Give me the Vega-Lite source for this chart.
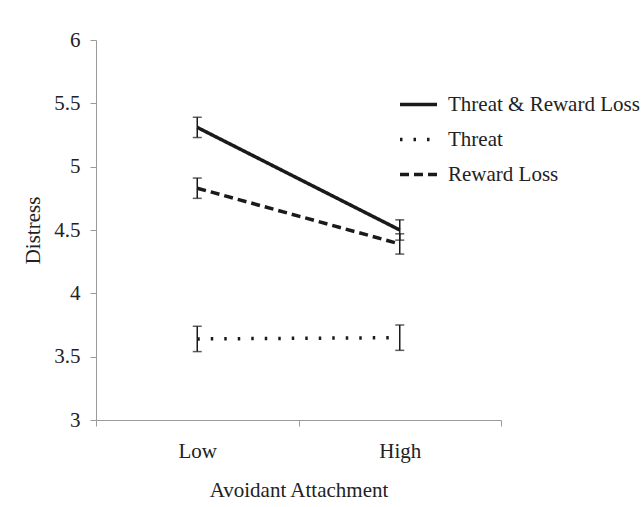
{
  "$schema": "https://vega.github.io/schema/vega-lite/v6.json",
  "width": 405,
  "height": 380,
  "autosize": {"type": "none"},
  "padding": {"left": 96, "top": 40, "right": 140, "bottom": 87},
  "background": "white",
  "config": {
    "view": {"stroke": null},
    "font": "Liberation Serif",
    "axis": {
      "labelFont": "Liberation Serif",
      "titleFont": "Liberation Serif",
      "labelFontSize": 21,
      "titleFontSize": 21,
      "titleFontWeight": "normal",
      "labelColor": "#222222",
      "titleColor": "#222222",
      "domainColor": "#9a9a9a",
      "tickColor": "#9a9a9a",
      "grid": false
    }
  },
  "data": {
    "values": [
      {"attach": "Low", "series": "Threat & Reward Loss", "mean": 5.31, "lo": 5.23, "hi": 5.39},
      {"attach": "High", "series": "Threat & Reward Loss", "mean": 4.5, "lo": 4.42, "hi": 4.58},
      {"attach": "Low", "series": "Threat", "mean": 3.64, "lo": 3.54, "hi": 3.74},
      {"attach": "High", "series": "Threat", "mean": 3.65, "lo": 3.55, "hi": 3.75},
      {"attach": "Low", "series": "Reward Loss", "mean": 4.83, "lo": 4.75, "hi": 4.91},
      {"attach": "High", "series": "Reward Loss", "mean": 4.39, "lo": 4.31, "hi": 4.47}
    ]
  },
  "encoding": {
    "x": {
      "field": "attach",
      "type": "nominal",
      "sort": ["Low", "High"],
      "scale": {"type": "band", "paddingInner": 0, "paddingOuter": 0},
      "axis": {
        "title": "Avoidant Attachment",
        "labelAngle": 0,
        "labelFont": "Liberation Serif",
        "tickBand": "extent",
        "tickSize": 6,
        "labelPadding": 14,
        "titlePadding": 18
      }
    }
  },
  "layer": [
    {
      "mark": {"type": "line", "strokeWidth": 3.5, "color": "#1a1a1a"},
      "encoding": {
        "y": {
          "field": "mean",
          "type": "quantitative",
          "scale": {"domain": [3, 6], "nice": false, "zero": false},
          "axis": {
            "title": "Distress",
            "labelFont": "Liberation Serif",
            "values": [3, 3.5, 4, 4.5, 5, 5.5, 6],
            "format": "~g",
            "tickSize": 6,
            "labelPadding": 10,
            "titlePadding": 10
          }
        },
        "strokeDash": {
          "field": "series",
          "type": "nominal",
          "scale": {
            "domain": ["Threat & Reward Loss", "Threat", "Reward Loss"],
            "range": [[1, 0], [2.5, 11], [9, 5]]
          },
          "legend": {
            "orient": "none",
            "legendX": 302,
            "legendY": 44,
            "title": null,
            "padding": 0,
            "symbolType": "stroke",
            "symbolSize": 1369,
            "symbolStrokeWidth": 3.5,
            "symbolStrokeColor": "#1a1a1a",
            "labelFont": "Liberation Serif",
            "labelFontSize": 21,
            "labelColor": "#222222",
            "labelOffset": 9,
            "labelLimit": 300,
            "rowPadding": 4
          }
        }
      }
    },
    {
      "mark": {"type": "rule", "strokeWidth": 1.5, "color": "#1a1a1a"},
      "encoding": {
        "y": {"field": "lo", "type": "quantitative"},
        "y2": {"field": "hi"},
        "detail": {"field": "series"}
      }
    },
    {
      "mark": {"type": "tick", "size": 9, "thickness": 1.5, "color": "#1a1a1a", "orient": "horizontal"},
      "encoding": {
        "y": {"field": "lo", "type": "quantitative"}
      }
    },
    {
      "mark": {"type": "tick", "size": 9, "thickness": 1.5, "color": "#1a1a1a", "orient": "horizontal"},
      "encoding": {
        "y": {"field": "hi", "type": "quantitative"}
      }
    }
  ]
}
